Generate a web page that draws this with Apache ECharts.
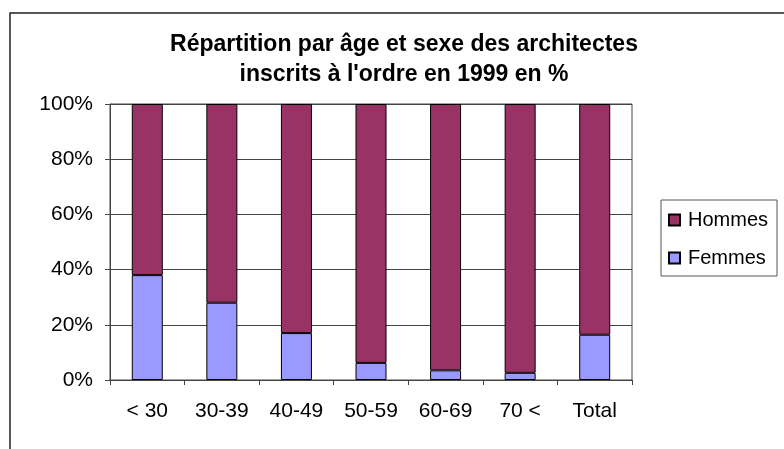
<!DOCTYPE html>
<html>
<head>
<meta charset="utf-8">
<script src="https://cdn.jsdelivr.net/npm/echarts@6/dist/echarts.min.js"></script>
<style>
  html, body { margin: 0; padding: 0; background: #fff; }
  #chart { width: 784px; height: 449px; }
</style>
</head>
<body>
<div id="chart"></div>
<script>
const categories = ['< 30', '30-39', '40-49', '50-59', '60-69', '70 <', 'Total'];
const femmes = [38, 28, 17, 6.2, 3.5, 2.6, 16.4];
const hommes = [62, 72, 83, 93.8, 96.5, 97.4, 83.6];
const yTicks = [0, 20, 40, 60, 80, 100];

const font = "'Liberation Sans', Arial, sans-serif";
const lineCol = '#444';

const chart = echarts.init(document.getElementById('chart'));
chart.setOption({
    animation: false,
    backgroundColor: '#fff',
    textStyle: { fontFamily: font, color: '#000' },
    title: {
        text: 'Répartition par âge et sexe des architectes\ninscrits à l\'ordre en 1999 en %',
        left: 399,
        textAlign: 'center',
        top: 25,
        padding: 5,
        textStyle: {
            fontFamily: font,
            fontSize: 23,
            fontWeight: 'bold',
            lineHeight: 30,
            color: '#000',
        },
    },
    graphic: [
        {
            type: 'rect',
            shape: { x: 10, y: 13, width: 800, height: 470 },
            style: { fill: 'none', stroke: '#222', lineWidth: 1.5 },
            silent: true,
            z: -1,
        },
        {
            type: 'rect',
            shape: { x: 661, y: 200, width: 116, height: 76 },
            style: { fill: 'none', stroke: '#555', lineWidth: 1 },
            silent: true,
        },
    ],
    legend: {
        data: ['Hommes', 'Femmes'],
        orient: 'vertical',
        left: 661,
        top: 200,
        padding: [10, 4, 10, 7],
        itemWidth: 11,
        itemHeight: 11,
        itemGap: 18,
        icon: 'rect',
        textStyle: { fontFamily: font, fontSize: 20, lineHeight: 20, color: '#000', padding: [0, 0, 0, 3] },
    },
    grid: {
        left: 110,
        right: 152,
        top: 104,
        bottom: 69,
        show: true,
        borderColor: lineCol,
        borderWidth: 1,
        containLabel: false,
    },
    xAxis: {
        type: 'category',
        data: categories,
        axisLine: { lineStyle: { color: lineCol, width: 1 } },
        axisTick: { show: true, length: 5, lineStyle: { color: lineCol } },
        axisLabel: { fontFamily: font, fontSize: 21, color: '#000', margin: 21, interval: 0 },
    },
    yAxis: {
        type: 'value',
        min: 0,
        max: 100,
        interval: 20,
        axisLine: { show: true, lineStyle: { color: lineCol, width: 1 } },
        axisTick: { show: true, length: 5, lineStyle: { color: lineCol } },
        splitLine: { show: true, lineStyle: { color: lineCol, width: 1 } },
        axisLabel: {
            fontFamily: font,
            fontSize: 21,
            color: '#000',
            margin: 17,
            formatter: (v) => (yTicks.includes(v) ? v + '%' : ''),
        },
    },
    series: [
        {
            name: 'Femmes',
            type: 'bar',
            stack: 'total',
            barWidth: 31,
            data: femmes,
            itemStyle: { color: '#9999FF', borderColor: '#000', borderWidth: 1 },
        },
        {
            name: 'Hommes',
            type: 'bar',
            stack: 'total',
            barWidth: 31,
            data: hommes,
            itemStyle: { color: '#993366', borderColor: '#000', borderWidth: 1 },
        },
    ],
});
</script>
</body>
</html>
